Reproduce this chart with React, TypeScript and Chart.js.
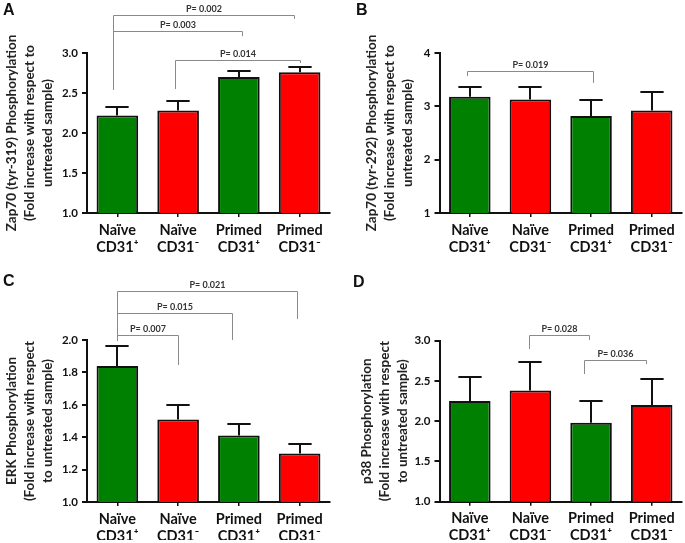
import React, { useEffect, useRef } from 'react';
import { Chart, registerables } from 'chart.js';

Chart.register(...registerables);

// ---------- data ----------
const categories = [
  ['Naïve', 'CD31⁺'],
  ['Naïve', 'CD31⁻'],
  ['Primed', 'CD31⁺'],
  ['Primed', 'CD31⁻'],
];

const zap319Means = [2.22, 2.28, 2.7, 2.76];
const zap319Sem = [0.1, 0.12, 0.08, 0.06];
const zap292Means = [3.18, 3.13, 2.82, 2.92];
const zap292Sem = [0.19, 0.24, 0.3, 0.35];
const erkMeans = [1.84, 1.51, 1.41, 1.3];
const erkSem = [0.12, 0.09, 0.07, 0.06];
const p38Means = [2.25, 2.38, 1.98, 2.2];
const p38Sem = [0.3, 0.36, 0.27, 0.33];

const zap319Ticks = [1.0, 1.5, 2.0, 2.5, 3.0];
const zap319TickLabels = ['1.0', '1.5', '2.0', '2.5', '3.0'];
const zap292Ticks = [1, 2, 3, 4];
const zap292TickLabels = ['1', '2', '3', '4'];
const erkTicks = [1.0, 1.2, 1.4, 1.6, 1.8, 2.0];
const erkTickLabels = ['1.0', '1.2', '1.4', '1.6', '1.8', '2.0'];
const p38Ticks = [1.0, 1.5, 2.0, 2.5, 3.0];
const p38TickLabels = ['1.0', '1.5', '2.0', '2.5', '3.0'];

const zap319PLabels = ['P= 0.002', 'P= 0.003', 'P= 0.014'];
const zap292PLabels = ['P= 0.019'];
const erkPLabels = ['P= 0.021', 'P= 0.015', 'P= 0.007'];
const p38PLabels = ['P= 0.028', 'P= 0.036'];

// bracket geometry: [from category, to category, level, left leg end, right leg end] (category / value units)
const zap319Brackets = [
  [-0.077, 2.912, 3.475, 2.54, 3.425],
  [-0.077, 2.056, 3.275, 2.54, 3.21],
  [0.948, 3.006, 2.91, 2.55, 2.875],
];
const zap292Brackets = [[-0.04, 2.03, 3.66, 3.57, 3.44]];
const erkBrackets = [
  [0.0, 2.956, 2.304, 1.994, 2.13],
  [0.0, 1.886, 2.168, 1.994, 2.0],
  [0.0, 1.0, 2.031, 1.994, 1.846],
];
const p38Brackets = [
  [0.97, 1.96, 3.071, 2.897, 3.009],
  [1.88, 2.9, 2.76, 2.586, 2.71],
];

const GREEN = '#008000';
const RED = '#ff0000';
const barColors = [GREEN, RED, GREEN, RED];
const INK = '#111111';
const FONT = 'Lato';

type PanelProps = {
  left: number;
  top: number;
  width: number;
  height: number;
  means: number[];
  errors: number[];
  ticks: number[];
  tickLabels: string[];
  yMin: number;
  yMax: number;
  title: string[];
  brackets: number[][];
  pLabels: string[];
  pad: { left: number; top: number; right: number; bottom: number };
  scaleW: number;
  scaleH: number;
};

function PanelChart(p: PanelProps) {
  const ref = useRef<HTMLCanvasElement>(null);
  useEffect(() => {
    const canvas = ref.current;
    if (!canvas) return;
    const annot = {
      id: 'annot',
      afterDatasetsDraw(chart: any) {
        const ctx = chart.ctx;
        const x = chart.scales.x;
        const y = chart.scales.y;
        const meta = chart.getDatasetMeta(0);
        ctx.save();
        // error bars (upper only)
        ctx.strokeStyle = INK;
        ctx.lineWidth = 2;
        meta.data.forEach((bar: any, i: number) => {
          const bx = Math.round(bar.x);
          const y0 = y.getPixelForValue(p.means[i]);
          const y1 = Math.round(y.getPixelForValue(p.means[i] + p.errors[i]));
          const half = bar.width * 0.28;
          ctx.beginPath();
          ctx.moveTo(bx, y0);
          ctx.lineTo(bx, y1);
          ctx.moveTo(bx - half, y1);
          ctx.lineTo(bx + half, y1);
          ctx.stroke();
        });
        // significance brackets
        const c0 = x.getPixelForValue(0);
        const step = x.getPixelForValue(1) - c0;
        ctx.strokeStyle = '#8a8a8a';
        ctx.lineWidth = 1;
        ctx.fillStyle = '#333';
        ctx.font = `bold 9px ${FONT}`;
        ctx.textAlign = 'center';
        ctx.textBaseline = 'alphabetic';
        p.brackets.forEach((b, k) => {
          const xl = Math.round(c0 + b[0] * step) + 0.5;
          const xr = Math.round(c0 + b[1] * step) + 0.5;
          const yl = Math.round(y.getPixelForValue(b[2])) + 0.5;
          const ye1 = y.getPixelForValue(b[3]);
          const ye2 = y.getPixelForValue(b[4]);
          ctx.beginPath();
          ctx.moveTo(xl, ye1);
          ctx.lineTo(xl, yl);
          ctx.lineTo(xr, yl);
          ctx.lineTo(xr, ye2);
          ctx.stroke();
          ctx.fillText(p.pLabels[k], (xl + xr) / 2, yl - 4);
        });
        ctx.restore();
      },
    };
    const chart = new Chart(canvas, {
      type: 'bar',
      data: {
        labels: categories,
        datasets: [
          {
            data: p.means,
            backgroundColor: barColors,
            borderColor: INK,
            borderWidth: 2,
            barPercentage: 0.685,
            categoryPercentage: 1,
          },
        ],
      },
      options: {
        animation: false,
        responsive: false,
        devicePixelRatio: 1,
        layout: { padding: p.pad },
        plugins: { legend: { display: false }, tooltip: { enabled: false } },
        scales: {
          x: {
            grid: {
              display: true,
              drawOnChartArea: false,
              drawTicks: true,
              tickLength: 4,
              offset: false,
              color: INK,
              lineWidth: 1.5,
            },
            border: { display: true, color: INK, width: 2 },
            ticks: {
              color: INK,
              font: { family: FONT, weight: 'bold', size: 14.5, lineHeight: 1.17 },
              padding: 4.5,
              maxRotation: 0,
              autoSkip: false,
            },
            afterFit: (s: any) => {
              s.height = p.scaleH;
            },
          },
          y: {
            min: p.yMin,
            max: p.yMax,
            afterBuildTicks: (s: any) => {
              s.ticks = p.ticks.map((v) => ({ value: v }));
            },
            ticks: {
              color: INK,
              font: { family: FONT, weight: 'bold', size: 11.5 },
              padding: 4,
              callback: (_v: any, i: number) => p.tickLabels[i],
            },
            grid: {
              display: true,
              drawOnChartArea: false,
              drawTicks: true,
              tickLength: 5,
              color: INK,
              lineWidth: 2,
            },
            border: { display: true, color: INK, width: 2 },
            title: {
              display: true,
              text: p.title,
              color: '#222',
              font: { family: FONT, weight: 'bold', size: 13.5, lineHeight: 1.33 },
              padding: { top: 3, bottom: 0 },
            },
            afterFit: (s: any) => {
              s.width = p.scaleW;
            },
          },
        },
      },
      plugins: [annot],
    } as any);
    return () => chart.destroy();
  }, []);
  return (
    <canvas
      ref={ref}
      width={p.width}
      height={p.height}
      style={{ position: 'absolute', left: p.left, top: p.top, width: p.width, height: p.height }}
    />
  );
}

const letterStyle: React.CSSProperties = {
  position: 'absolute',
  fontFamily: '"Liberation Sans", Arial, sans-serif',
  fontWeight: 'bold',
  fontSize: 16,
  lineHeight: '16px',
  color: '#111',
};

export default function App() {
  return (
    <div style={{ position: 'absolute', left: 0, top: 0, width: 685, height: 543, background: '#fff', overflow: 'hidden' }}>
      <PanelChart
        left={0}
        top={0}
        width={342}
        height={270}
        means={zap319Means}
        errors={zap319Sem}
        ticks={zap319Ticks}
        tickLabels={zap319TickLabels}
        yMin={1}
        yMax={3}
        title={['Zap70 (tyr-319) Phosphorylation', '(Fold increase with respect to', 'untreated sample)']}
        brackets={zap319Brackets}
        pLabels={zap319PLabels}
        pad={{ left: 0, top: 53, right: 12, bottom: 7 }}
        scaleW={87}
        scaleH={50}
      />
      <PanelChart
        left={342}
        top={0}
        width={343}
        height={270}
        means={zap292Means}
        errors={zap292Sem}
        ticks={zap292Ticks}
        tickLabels={zap292TickLabels}
        yMin={1}
        yMax={4}
        title={['Zap70 (tyr-292) Phosphorylation', '(Fold increase with respect to', 'untreated sample)']}
        brackets={zap292Brackets}
        pLabels={zap292PLabels}
        pad={{ left: 18, top: 53, right: 3, bottom: 7 }}
        scaleW={79.5}
        scaleH={50}
      />
      <PanelChart
        left={0}
        top={270}
        width={342}
        height={273}
        means={erkMeans}
        errors={erkSem}
        ticks={erkTicks}
        tickLabels={erkTickLabels}
        yMin={1}
        yMax={2}
        title={['ERK Phosphorylation', '(Fold increase with respect', 'to untreated sample)']}
        brackets={erkBrackets}
        pLabels={erkPLabels}
        pad={{ left: 0, top: 70, right: 12, bottom: 3 }}
        scaleW={87}
        scaleH={38}
      />
      <PanelChart
        left={342}
        top={270}
        width={343}
        height={273}
        means={p38Means}
        errors={p38Sem}
        ticks={p38Ticks}
        tickLabels={p38TickLabels}
        yMin={1}
        yMax={3}
        title={['p38 Phosphorylation', '(Fold increase with respect', 'to untreated sample)']}
        brackets={p38Brackets}
        pLabels={p38PLabels}
        pad={{ left: 13, top: 70.7, right: 3, bottom: 3 }}
        scaleW={84.5}
        scaleH={38.3}
      />
      <div style={{ ...letterStyle, left: 3, top: 2 }}>A</div>
      <div style={{ ...letterStyle, left: 356, top: 2 }}>B</div>
      <div style={{ ...letterStyle, left: 3, top: 273 }}>C</div>
      <div style={{ ...letterStyle, left: 353, top: 274 }}>D</div>
    </div>
  );
}
